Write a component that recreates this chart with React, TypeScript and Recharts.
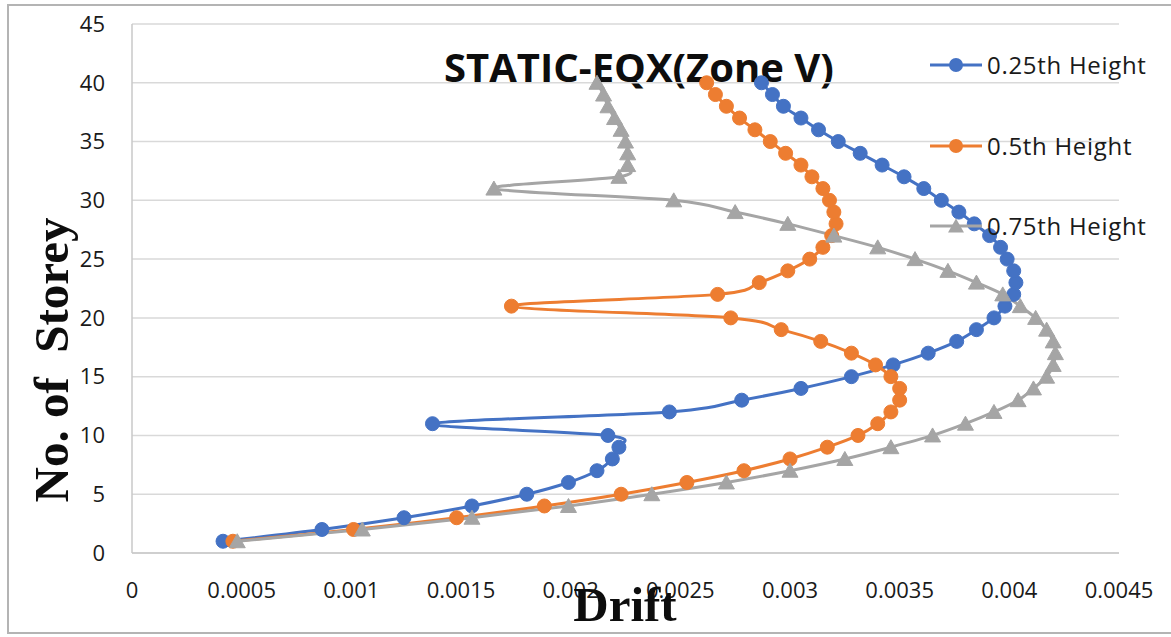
import React from 'react';
import { LineChart, Line, XAxis, YAxis, CartesianGrid } from 'recharts';

const storeys = [1, 2, 3, 4, 5, 6, 7, 8, 9, 10, 11, 12, 13, 14, 15, 16, 17, 18, 19, 20, 21, 22, 23, 24, 25, 26, 27, 28, 29, 30, 31, 32, 33, 34, 35, 36, 37, 38, 39, 40];

const drift025 = [
  0.000415, 0.000866, 0.00124, 0.00155, 0.0018, 0.00199, 0.00212, 0.00219, 0.00222, 0.00217,
  0.00137, 0.00245, 0.00278, 0.00305, 0.00328, 0.00347, 0.00363, 0.00376, 0.00385, 0.00393,
  0.00398, 0.00402, 0.00403, 0.00402, 0.00399, 0.00396, 0.00391, 0.00384, 0.00377, 0.00369,
  0.00361, 0.00352, 0.00342, 0.00332, 0.00322, 0.00313, 0.00305, 0.00297, 0.00292, 0.00287,
];

const drift05 = [
  0.00046, 0.00101, 0.00148, 0.00188, 0.00223, 0.00253, 0.00279, 0.003, 0.00317, 0.00331,
  0.0034, 0.00346, 0.0035, 0.0035, 0.00346, 0.00339, 0.00328, 0.00314, 0.00296, 0.00273,
  0.00173, 0.00267, 0.00286, 0.00299, 0.00309, 0.00315, 0.00319, 0.00321, 0.0032, 0.00318,
  0.00315, 0.0031, 0.00305, 0.00298, 0.00291, 0.00284, 0.00277, 0.00271, 0.00266, 0.00262,
];

const drift075 = [
  0.00048, 0.00105, 0.00155, 0.00199, 0.00237, 0.00271, 0.003, 0.00325, 0.00346, 0.00365,
  0.0038, 0.00393, 0.00404, 0.00411, 0.00417, 0.0042, 0.00421, 0.0042, 0.00417, 0.00412,
  0.00405, 0.00397, 0.00385, 0.00372, 0.00357, 0.0034, 0.0032, 0.00299, 0.00275, 0.00247,
  0.00165, 0.00222, 0.00226, 0.00226, 0.00225, 0.00223, 0.0022, 0.00217, 0.00215, 0.00212,
];

const seriesNames = ['0.25th Height', '0.5th Height', '0.75th Height'];
const seriesColors = ['#4472C4', '#ED7D31', '#A5A5A5'];
const xTicks = [0, 0.0005, 0.001, 0.0015, 0.002, 0.0025, 0.003, 0.0035, 0.004, 0.0045];
const yTicks = [0, 5, 10, 15, 20, 25, 30, 35, 40, 45];
const titleText = 'STATIC-EQX(Zone V)';
const xLabel = 'Drift';
const yLabel = 'No. of  Storey';

const data = storeys.map((s, i) => ({ storey: s, h025: drift025[i], h05: drift05[i], h075: drift075[i] }));

// Excel-like smoothing (Catmull-Rom through points)
const catmullRom = (context: any) => {
  let pts: number[][] = [];
  return {
    areaStart() {},
    areaEnd() {},
    lineStart() {
      pts = [];
    },
    point(x: number, y: number) {
      pts.push([+x, +y]);
    },
    lineEnd() {
      const n = pts.length;
      if (!n) return;
      context.moveTo(pts[0][0], pts[0][1]);
      for (let i = 0; i < n - 1; i++) {
        const p0 = pts[Math.max(i - 1, 0)];
        const p1 = pts[i];
        const p2 = pts[i + 1];
        const p3 = pts[Math.min(i + 2, n - 1)];
        context.bezierCurveTo(
          p1[0] + (p2[0] - p0[0]) / 6,
          p1[1] + (p2[1] - p0[1]) / 6,
          p2[0] - (p3[0] - p1[0]) / 6,
          p2[1] - (p3[1] - p1[1]) / 6,
          p2[0],
          p2[1]
        );
      }
    },
  };
};

const makeCircleDot = (color: string) => (props: any) => {
  const { cx, cy, index } = props;
  if (cx == null || cy == null) return <g key={`c-${index}`} />;
  return <circle key={`c-${index}`} cx={cx} cy={cy} r={7} fill={color} stroke={color} strokeWidth={1} />;
};

const makeTriangleDot = (color: string) => (props: any) => {
  const { cx, cy, index } = props;
  if (cx == null || cy == null) return <g key={`t-${index}`} />;
  const pts = `${cx},${cy - 7.5} ${cx - 8},${cy + 6.5} ${cx + 8},${cy + 6.5}`;
  return <polygon key={`t-${index}`} points={pts} fill={color} stroke={color} strokeWidth={1} />;
};

const tickStyle = { fontFamily: 'Open Sans', fontSize: 22, fill: '#1a1a1a' };

export default function App() {
  return (
    <div style={{ position: 'absolute', left: 0, top: 0, width: 1171, height: 637, background: '#fff', overflow: 'hidden' }}>
      <div
        style={{
          position: 'absolute',
          left: 7,
          top: 4,
          width: 1170,
          height: 630,
          border: '2px solid #b4b4b4',
          boxSizing: 'border-box',
        }}
      />
      <svg width={1171} height={637} style={{ position: 'absolute', left: 0, top: 0 }}>
        <text
          x={639}
          y={82}
          textAnchor="middle"
          fontFamily="Open Sans"
          fontWeight={700}
          fontSize={40}
          fill="#0d0d0d"
        >
          {titleText}
        </text>
      </svg>
      <div style={{ position: 'absolute', left: 0, top: 0 }}>
        <LineChart
          width={1171}
          height={637}
          data={data}
          layout="vertical"
          margin={{ top: 24, right: 52, left: 0, bottom: 0 }}
        >
          <CartesianGrid horizontal vertical={false} stroke="#d9d9d9" strokeWidth={1.5} />
          <XAxis
            type="number"
            domain={[0, 0.0045]}
            ticks={xTicks}
            interval={0}
            height={84}
            tickLine={false}
            tickSize={0}
            tickMargin={29}
            axisLine={{ stroke: '#c8c8c8', strokeWidth: 1.5 }}
            tick={tickStyle}
            allowDataOverflow
          />
          <YAxis
            type="number"
            dataKey="storey"
            domain={[0, 45]}
            ticks={yTicks}
            interval={0}
            width={132}
            tickLine={false}
            tickSize={0}
            tickMargin={27}
            axisLine={{ stroke: '#c8c8c8', strokeWidth: 1.5 }}
            tick={tickStyle}
            reversed
          />
          <Line
            dataKey="h025"
            name={seriesNames[0]}
            stroke={seriesColors[0]}
            strokeWidth={3}
            type={catmullRom as any}
            dot={makeCircleDot(seriesColors[0])}
            isAnimationActive={false}
          />
          <Line
            dataKey="h05"
            name={seriesNames[1]}
            stroke={seriesColors[1]}
            strokeWidth={3}
            type={catmullRom as any}
            dot={makeCircleDot(seriesColors[1])}
            isAnimationActive={false}
          />
          <Line
            dataKey="h075"
            name={seriesNames[2]}
            stroke={seriesColors[2]}
            strokeWidth={3}
            type={catmullRom as any}
            dot={makeTriangleDot(seriesColors[2])}
            isAnimationActive={false}
          />
        </LineChart>
      </div>
      <svg width={1171} height={637} style={{ position: 'absolute', left: 0, top: 0, pointerEvents: 'none' }}>
        <text
          transform="translate(68,360) rotate(-90)"
          textAnchor="middle"
          fontFamily="Liberation Serif"
          fontWeight={700}
          fontSize={49}
          fill="#0d0d0d"
          style={{ whiteSpace: 'pre' }}
        >
          {yLabel}
        </text>
        <text x={625} y={621} textAnchor="middle" fontFamily="Liberation Serif" fontWeight={700} fontSize={49} fill="#0d0d0d">
          {xLabel}
        </text>
        {seriesNames.map((name, i) => {
          const cy = [65, 146, 226][i];
          const color = seriesColors[i];
          return (
            <g key={name}>
              <line x1={930} y1={cy} x2={982} y2={cy} stroke={color} strokeWidth={3} />
              {i < 2 ? (
                <circle cx={956} cy={cy} r={7} fill={color} />
              ) : (
                <polygon points={`956,${cy - 7.5} 948,${cy + 6.5} 964,${cy + 6.5}`} fill={color} />
              )}
              <text
                x={987}
                y={cy + 8.5}
                fontFamily="Open Sans"
                fontSize={24}
                letterSpacing={0.7}
                fill="#1a1a1a"
              >
                {name}
              </text>
            </g>
          );
        })}
      </svg>
    </div>
  );
}
